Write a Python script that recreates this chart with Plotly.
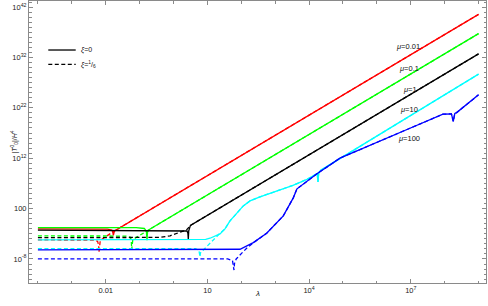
import numpy as np
import plotly.graph_objects as go

# ---- data (log10 values) ----
red_solid_lx = [-4.0, -1.95, -1.82, -1.79, -1.776, -1.76, -1.74, 9.0]
red_solid_ly = [-2.04, -2.06, -2.25, -2.7, -3.3, -2.7, -2.42, 40.55]
red_dash_lx = [-4.0, -2.35, -2.24, -2.21, -2.198, -2.185, -2.16, -1.74, 9.0]
red_dash_ly = [-4.22, -4.25, -4.5, -5.2, -6.67, -5.2, -4.3, -2.42, 40.55]

green_solid_lx = [-4.0, -1.1, -0.86, -0.80, -0.782, -0.765, -0.70, 9.0]
green_solid_ly = [-1.78, -1.79, -1.95, -2.5, -4.3, -2.6, -2.1, 36.72]
green_dash_lx = [-4.0, -1.40, -1.27, -1.245, -1.233, -1.22, -1.20, -0.70, 9.0]
green_dash_ly = [-3.43, -3.45, -3.7, -4.4, -6.1, -4.6, -4.15, -2.1, 36.72]

black_solid_lx = [-4.0, 0.30, 0.40, 0.425, 0.437, 0.45, 0.50, 9.0]
black_solid_ly = [-2.29, -2.30, -2.45, -2.9, -4.1, -2.4, -1.34, 32.7]
black_dash_lx = [-4.0, -0.70, -0.40, -0.10, 0.19, 0.39, 0.47, 0.52, 9.0]
black_dash_ly = [-3.78, -3.78, -3.72, -3.40, -2.75, -2.2, -1.6, -1.26, 32.7]

cyan_solid_lx = [-4.0, 0.75, 0.95, 1.077, 1.372, 1.519, 1.667, 2.059, 2.257, 2.552,
                 3.142, 3.525, 3.938, 4.175, 4.24, 4.263, 4.285, 4.34, 9.0]
cyan_solid_ly = [-4.22, -4.22, -4.12, -3.885, -3.03, -2.04, -0.445, 2.54, 3.53, 4.33,
                 5.62, 6.61, 7.81, 8.80, 8.95, 7.3, 9.1, 9.59, 28.68]
cyan_dash_lx = [-4.0, 0.65, 0.75, 0.772, 0.782, 0.795, 0.879, 1.174, 1.372, 1.519, 1.667,
                2.059, 2.257, 2.552, 3.142, 3.525, 3.938, 4.175, 4.24, 4.263, 4.285, 4.34, 9.0]
cyan_dash_ly = [-5.95, -5.96, -6.3, -6.9, -7.6, -6.8, -6.21, -4.22, -2.89, -2.04, -0.445,
                2.54, 3.53, 4.33, 5.62, 6.61, 7.81, 8.80, 8.95, 7.3, 9.1, 9.59, 28.68]

blue_solid_lx = [-4.0, 1.70, 1.962, 2.354, 2.749, 3.239, 3.534, 3.643, 3.879, 4.233, 4.912,
                 6.091, 6.976, 7.95, 8.20, 8.254, 8.30, 8.354, 8.649, 9.0]
blue_solid_ly = [-6.21, -6.21, -6.07, -4.76, -2.89, 0.55, 4.13, 5.92, 7.11, 8.90, 12.02,
                 15.32, 17.94, 20.73, 20.80, 19.3, 20.88, 21.05, 22.62, 24.58]
blue_dash_lx = [-4.0, 1.60, 1.74, 1.772, 1.785, 1.80, 1.85, 1.962, 2.159, 2.354, 2.749, 3.239,
                3.534, 3.643, 3.879, 4.233, 4.912, 6.091, 6.976, 7.95, 8.20, 8.254, 8.30, 8.354, 8.649, 9.0]
blue_dash_ly = [-8.0, -8.0, -8.3, -9.2, -10.2, -8.9, -8.0, -7.2, -5.87, -4.80, -2.89, 0.55,
                4.13, 5.92, 7.11, 8.90, 12.02, 15.32, 17.94, 20.73, 20.80, 19.3, 20.88, 21.05, 22.62, 24.58]

mu_labels = ["0.01", "0.1", "1", "10", "100"]
mu_label_lx = [6.926, 6.947, 6.976, 6.947, 6.956]
mu_label_ly = [34.09, 29.87, 25.60, 21.76, 16.0]

x_tick_exp = [-2, 1, 4, 7]
x_tick_text = ["0.01", "10", "10<sup>4</sup>", "10<sup>7</sup>"]
y_tick_exp = [-8, 2, 12, 22, 32, 42]
y_tick_text = ["10<sup>-8</sup>", "100", "10<sup>12</sup>", "10<sup>22</sup>", "10<sup>32</sup>", "10<sup>42</sup>"]

curves = [
    (red_solid_lx, red_solid_ly, "#ff0000", "solid"),
    (red_dash_lx, red_dash_ly, "#ff0000", "dash"),
    (green_solid_lx, green_solid_ly, "#00ff00", "solid"),
    (green_dash_lx, green_dash_ly, "#00ff00", "dash"),
    (black_solid_lx, black_solid_ly, "#000000", "solid"),
    (black_dash_lx, black_dash_ly, "#000000", "dash"),
    (cyan_solid_lx, cyan_solid_ly, "#00ffff", "solid"),
    (cyan_dash_lx, cyan_dash_ly, "#00ffff", "dash"),
    (blue_solid_lx, blue_solid_ly, "#0000ff", "solid"),
    (blue_dash_lx, blue_dash_ly, "#0000ff", "dash"),
]

fig = go.Figure()
for lx, ly, col, style in curves:
    fig.add_trace(go.Scatter(
        x=10 ** np.array(lx), y=10 ** np.array(ly), mode="lines",
        line=dict(color=col, width=1.3, dash="4px,2.5px" if style == "dash" else "solid"),
        showlegend=False, hoverinfo="skip"))

FONT = "Liberation Sans"
frame = "#8a8a8a"
TICKFONT = dict(size=7.5, family=FONT, color="#222")

fig.update_layout(
    width=488, height=306,
    margin=dict(l=29, r=2, t=1, b=23, autoexpand=False),
    paper_bgcolor="white", plot_bgcolor="white",
    font=dict(family=FONT, size=7, color="#222"),
    xaxis=dict(type="log", range=[-4.263, 9.22], showgrid=False, zeroline=False, automargin=False,
               showline=True, linecolor=frame, linewidth=1, mirror="allticks",
               ticks="inside", ticklen=4, tickcolor=frame, tickwidth=1,
               tickvals=[10.0 ** e for e in x_tick_exp], ticktext=x_tick_text,
               tickfont=TICKFONT,
               minor=dict(tickvals=[10.0 ** e for e in range(-4, 10)], ticklen=2.5,
                          tickcolor=frame, ticks="inside", showgrid=False)),
    yaxis=dict(type="log", range=[-12.77, 43.2], showgrid=False, zeroline=False, automargin=False,
               showline=True, linecolor=frame, linewidth=1, mirror="allticks",
               ticks="inside", ticklen=4, tickcolor=frame, tickwidth=1,
               tickvals=[10.0 ** e for e in y_tick_exp], ticktext=y_tick_text,
               tickfont=TICKFONT,
               minor=dict(tickvals=[10.0 ** e for e in range(-12, 44)], ticklen=2.5,
                          tickcolor=frame, ticks="inside", showgrid=False)),
)

# mu labels
for lab, ax, ay in zip(mu_labels, mu_label_lx, mu_label_ly):
    fig.add_annotation(x=ax, y=ay, xref="x", yref="y", text="<i>μ</i>=" + lab,
                       showarrow=False, font=dict(size=7.5, family=FONT, color="#111"))

# legend (keys drawn as decorations)
fig.add_shape(type="line", xref="paper", yref="paper", x0=0.0422, x1=0.1022, y0=0.8262, y1=0.8262,
              line=dict(color="black", width=1.3))
fig.add_shape(type="line", xref="paper", yref="paper", x0=0.0422, x1=0.1022, y0=0.7755, y1=0.7755,
              line=dict(color="black", width=1.3, dash="4px,2.5px"))
fig.add_annotation(x=0.1105, y=0.8262, xref="paper", yref="paper", xanchor="left", yanchor="middle",
                   text="<i>ξ</i>=0", showarrow=False, font=dict(size=7, family=FONT, color="#111"))
fig.add_annotation(x=0.1105, y=0.7755, xref="paper", yref="paper", xanchor="left", yanchor="middle",
                   text="<i>ξ</i>=<sup>1</sup>/<sub>6</sub>", showarrow=False,
                   font=dict(size=7, family=FONT, color="#111"))

# axis titles
fig.add_annotation(x=0.501, y=-0.06, xref="paper", yref="paper", text="<i>λ</i>",
                   showarrow=False, font=dict(size=8, family=FONT, color="#111"))
fig.add_annotation(x=-0.048, y=0.50, xref="paper", yref="paper", textangle=-90,
                   text="|<i>T</i><sup>0</sup><sub>0</sub>|/<i>H</i><sup>4</sup>",
                   showarrow=False, font=dict(size=7, family=FONT, color="#111"))

fig.write_html("out.html", config={"displayModeBar": False},
               post_script="document.body.style.margin='0px';")
